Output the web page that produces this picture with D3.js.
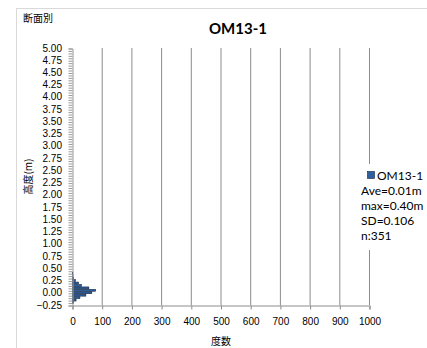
<!DOCTYPE html>
<html>
<head>
<meta charset="utf-8">
<script src="https://cdn.jsdelivr.net/npm/d3@7"></script>
<style>
  body { margin: 0; background: #fff; }
  svg text { font-family: "Liberation Sans", Arial, sans-serif; }
</style>
</head>
<body>
<div id="chart"></div>
<script>
// histogram of heights (bin centre, m) and counts
const binValues = [0.40, 0.35, 0.30, 0.25, 0.20, 0.15, 0.10, 0.05, 0.00, -0.05, -0.10, -0.15, -0.20];
const binCounts = [1, 2, 4, 10, 20, 30, 55, 78, 65, 45, 25, 12, 4];
const yTickLabels = ["5.00", "4.75", "4.50", "4.25", "4.00", "3.75", "3.50", "3.25", "3.00", "2.75",
  "2.50", "2.25", "2.00", "1.75", "1.50", "1.25", "1.00", "0.75", "0.50", "0.25", "0.00", "-0.25"];
const xTickValues = [0, 100, 200, 300, 400, 500, 600, 700, 800, 900, 1000];
const statLines = ["Ave=0.01m", "max=0.40m", "SD=0.106", "n:351"];
const seriesName = "OM13-1";

const width = 427, height = 348;
const plot = { left: 72, right: 369, top: 48, bottom: 305 };

const svg = d3.select("#chart").append("svg")
  .attr("width", width)
  .attr("height", height);

// chart frame
svg.append("rect")
  .attr("x", 16.5).attr("y", 8.5)
  .attr("width", 440).attr("height", 360)
  .attr("fill", "#fff")
  .attr("stroke", "#d9d9d9");

const x = d3.scaleLinear().domain([0, 1000]).range([plot.left, plot.right]);
const y = d3.scaleLinear().domain([-0.25, 5.00]).range([plot.bottom, plot.top]);
const binH = Math.abs(y(0.05) - y(0));

// vertical gridlines
svg.append("g")
  .selectAll("line")
  .data(xTickValues.slice(1))
  .join("line")
  .attr("x1", d => x(d) + 0.5).attr("x2", d => x(d) + 0.5)
  .attr("y1", plot.top).attr("y2", plot.bottom)
  .attr("stroke", "#8c8c8c")
  .attr("stroke-width", 1);

// bars
svg.append("g")
  .selectAll("rect")
  .data(binValues.map((v, i) => ({ v, c: binCounts[i] })))
  .join("rect")
  .attr("x", x(0) + 0.5)
  .attr("y", d => y(d.v) - binH / 2 + 0.3)
  .attr("width", d => x(d.c) - x(0))
  .attr("height", binH - 0.6)
  .attr("fill", "#2f5f9e")
  .attr("stroke", "#10243f")
  .attr("stroke-width", 0.6);

// x axis
const xAxis = svg.append("g")
  .attr("transform", `translate(0.5,${plot.bottom + 0.5})`)
  .call(d3.axisBottom(x).tickValues(xTickValues).tickSize(4).tickPadding(8).tickFormat(d3.format("d")));
xAxis.selectAll("path, line").attr("stroke", "#8c8c8c");
xAxis.selectAll("text").attr("font-size", 10).attr("fill", "#000")
  .style("font-family", "'Liberation Sans', Arial, sans-serif");

// y axis: minor ticks every 0.05, labels every 0.25
const yAxis = svg.append("g")
  .attr("transform", `translate(${plot.left + 0.5},0.5)`)
  .call(d3.axisLeft(y).tickValues(d3.range(0, 106).map(i => -0.25 + i * 0.05)).tickSize(4).tickFormat(""));
yAxis.selectAll("path, line").attr("stroke", "#9a9a9a");

svg.append("g")
  .selectAll("text")
  .data(yTickLabels)
  .join("text")
  .attr("x", 62)
  .attr("y", d => y(+d))
  .attr("dy", "0.35em")
  .attr("text-anchor", "end")
  .attr("font-size", 10)
  .text(d => d === "-0.25" ? "\u22120.25" : d);

// titles
svg.append("text")
  .attr("x", 23).attr("y", 22)
  .attr("font-size", 10)
  .style("font-family", "'Noto Sans CJK JP', sans-serif")
  .text("断面別");

svg.append("text")
  .attr("x", 238).attr("y", 34)
  .attr("text-anchor", "middle")
  .attr("font-size", 15)
  .attr("font-weight", "bold")
  .style("font-family", "Lato, sans-serif")
  .text("OM13-1");

svg.append("text")
  .attr("x", 221).attr("y", 345)
  .attr("text-anchor", "middle")
  .attr("font-size", 10)
  .style("font-family", "'Noto Sans CJK JP', sans-serif")
  .text("度数");

svg.append("text")
  .attr("transform", `translate(32,${(plot.top + plot.bottom) / 2}) rotate(-90)`)
  .attr("text-anchor", "middle")
  .attr("font-size", 10)
  .style("font-family", "'Noto Sans CJK JP', sans-serif")
  .text("高度(m)");

// legend + stats box (white box over the plot edge)
svg.append("rect")
  .attr("x", 358).attr("y", 164)
  .attr("width", 70).attr("height", 86)
  .attr("fill", "#fff");

svg.append("rect")
  .attr("x", 367.5).attr("y", 171.5)
  .attr("width", 7).attr("height", 7)
  .attr("fill", "#2f5f9e")
  .attr("stroke", "#10243f")
  .attr("stroke-width", 0.6);

svg.append("text")
  .attr("x", 377).attr("y", 180)
  .attr("font-size", 12)
  .style("font-family", "Lato, sans-serif")
  .text(seriesName);

svg.append("g")
  .selectAll("text")
  .data(statLines)
  .join("text")
  .attr("x", 361)
  .attr("y", (d, i) => 195 + i * 15)
  .attr("font-size", 12)
  .style("font-family", "Lato, sans-serif")
  .text(d => d);
</script>
</body>
</html>
